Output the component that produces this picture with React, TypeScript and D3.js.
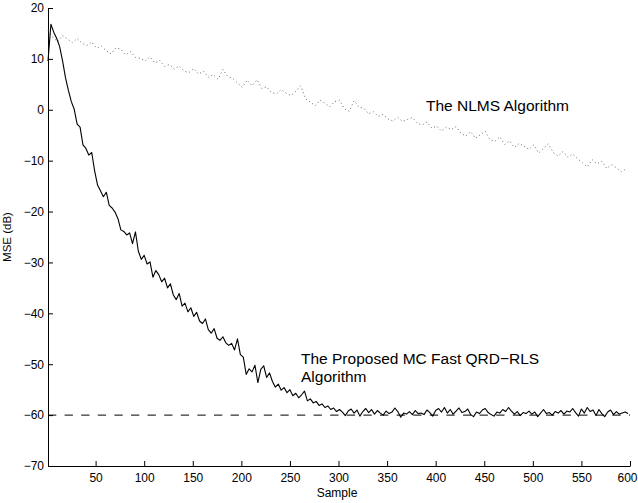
import React, { useEffect, useRef } from 'react'
import * as d3 from 'd3'

// MSE learning curves
const rlsStart = 1
const rlsStep = 3
const rlsMse = [
  9.6, 16.8, 15.2, 14.0, 12.4, 9.6, 6.3, 3.8, 1.6, 0.1,
  -2.8, -3.4, -6.9, -7.6, -8.9, -8.4, -12.0, -14.8, -15.9, -17.1,
  -16.2, -18.8, -19.3, -20.1, -21.4, -23.6, -23.9, -24.6, -24.2, -26.3,
  -24.0, -27.8, -29.4, -28.6, -30.3, -29.9, -32.9, -31.6, -32.4, -33.8,
  -33.1, -35.0, -34.2, -36.4, -37.3, -36.1, -38.6, -38.0, -39.7, -38.9,
  -40.6, -39.8, -41.5, -42.0, -41.1, -43.2, -43.9, -43.0, -44.9, -45.3,
  -44.6, -45.8, -46.3, -45.9, -47.2, -45.0, -48.1, -48.6, -52.0, -50.9,
  -51.5, -50.2, -53.6, -51.0, -50.3, -52.6, -51.7, -53.4, -54.5, -53.9,
  -55.1, -54.6, -55.6, -55.0, -56.2, -55.7, -56.6, -56.0, -55.3, -57.2,
  -56.8, -57.6, -57.3, -58.1, -57.8, -58.5, -58.2, -58.9, -58.6, -59.3,
  -58.9, -59.4, -60.1, -59.2, -58.8, -59.6, -59.0, -60.2, -59.3, -58.7,
  -59.5, -58.9, -59.8, -59.1, -59.6, -60.0, -59.2, -59.7, -59.4, -58.6,
  -59.3, -60.4, -59.6, -59.8, -59.3, -59.9, -59.1, -59.7, -59.6, -59.9,
  -59.0, -59.5, -60.2, -59.1, -58.7, -59.4, -58.5, -59.6, -58.9, -59.8,
  -59.2, -58.6, -59.5, -59.3, -58.8, -59.9, -60.3, -59.4, -59.7, -59.0,
  -58.7, -59.5, -59.9, -60.2, -59.4, -59.6, -58.9, -59.3, -58.5, -59.2,
  -59.8, -59.3, -60.1, -59.5, -59.7, -59.2, -59.8, -59.4, -60.3, -59.6,
  -58.9, -59.7, -59.5, -60.0, -59.3, -59.6, -59.1, -59.8, -59.2, -59.4,
  -58.7, -59.5, -60.2, -58.8, -59.6, -58.5, -59.3, -59.0, -60.1, -58.9,
  -59.7, -60.3, -59.4, -59.0, -59.9, -59.3, -59.8, -59.6, -59.4, -59.7,
]

const nlmsStart = 1
const nlmsStep = 5
const nlmsMse = [
  15.6, 14.2, 13.4, 14.6, 13.9, 13.2, 14.0, 13.1, 12.6, 13.3,
  12.1, 12.5, 11.6, 11.0, 12.2, 11.9, 10.8, 11.4, 10.3, 10.1,
  9.6, 10.4, 9.2, 9.7, 8.5, 8.9, 8.0, 8.6, 7.6, 7.3,
  8.1, 7.0, 7.6, 6.4, 6.9, 6.0, 7.9, 6.5, 6.2, 5.3,
  4.4, 5.8, 4.7, 5.9, 4.2, 4.5, 3.4, 3.1, 4.0, 3.3,
  2.8, 3.6, 4.7, 2.2, 1.5, 0.8, 1.9, 1.3, 0.6, 1.6,
  1.9, 0.2, -0.3, 1.8, 0.5, 0.3, -0.8, -0.4, -1.3, -0.9,
  -1.8, -2.2, -1.5, -2.3, -1.9, -1.5, -2.6, -3.0, -2.4, -3.6,
  -3.2, -4.2, -3.4, -3.9, -3.3, -4.6, -5.2, -4.3, -5.6, -4.9,
  -4.2, -5.9, -6.2, -5.3, -6.8, -6.1, -7.4, -6.6, -7.2, -7.8,
  -6.9, -8.5, -7.6, -6.7, -8.4, -9.1, -8.2, -9.3, -8.7, -9.6,
  -10.4, -11.2, -9.8, -10.6, -10.1, -11.5, -10.8, -11.4, -12.2, -11.6,
]

const floorLevel = -60
const xTicks = [50, 100, 150, 200, 250, 300, 350, 400, 450, 500, 550, 600]
const yTicks = [-70, -60, -50, -40, -30, -20, -10, 0, 10, 20]

const width = 638
const height = 503
const font = '"Liberation Sans", Arial, Helvetica, sans-serif'

function MseChart() {
  const ref = useRef<SVGSVGElement>(null)

  useEffect(() => {
    const svg = d3.select(ref.current)
    svg.selectAll('*').remove()

    const x = d3.scaleLinear().domain([1, 600]).range([48, 630])
    const y = d3.scaleLinear().domain([-70, 20]).range([466, 8])

    const rls = rlsMse.map((v, i) => [rlsStart + i * rlsStep, v] as [number, number])
    const nlms = nlmsMse.map((v, i) => [nlmsStart + i * nlmsStep, v] as [number, number])

    const line = d3.line<[number, number]>()
      .x(d => x(d[0]))
      .y(d => y(d[1]))

    const fmt = (d: d3.NumberValue) => String(d).replace('-', '\u2212')

    svg.append('g')
      .attr('transform', 'translate(0,466)')
      .call(d3.axisBottom(x).tickValues(xTicks).tickSizeInner(-5).tickSizeOuter(0).tickPadding(7).tickFormat(fmt))
      .call(g => g.selectAll('text').attr('font-size', 12).attr('font-family', font))
      // last label sits on the right edge, pull it in a little
      .call(g => g.selectAll<SVGTextElement, number>('text').filter(d => d === 600).attr('dx', -3))

    svg.append('g')
      .attr('transform', 'translate(48,0)')
      .call(d3.axisLeft(y).tickValues(yTicks).tickSizeInner(-5).tickSizeOuter(0).tickPadding(4).tickFormat(fmt))
      .call(g => g.selectAll('text').attr('font-size', 12).attr('font-family', font))

    // -60 dB reference
    svg.append('path')
      .datum([[1, floorLevel], [600, floorLevel]] as [number, number][])
      .attr('fill', 'none')
      .attr('stroke', '#000')
      .attr('stroke-width', 1)
      .attr('stroke-dasharray', '8.3 8.3')
      .attr('d', line)

    svg.append('path')
      .datum(nlms)
      .attr('fill', 'none')
      .attr('stroke', '#666')
      .attr('stroke-width', 1)
      .attr('stroke-dasharray', '1 2.8')
      .attr('d', line)

    svg.append('path')
      .datum(rls)
      .attr('fill', 'none')
      .attr('stroke', '#000')
      .attr('stroke-width', 1.1)
      .attr('stroke-linejoin', 'round')
      .attr('d', line)

    const notes = svg.append('g').attr('font-family', font).attr('font-size', 15.5).attr('fill', '#000')
    notes.append('text').attr('x', 426).attr('y', 111).text('The NLMS Algorithm')
    notes.append('text').attr('x', 301).attr('y', 363.5).text('The Proposed MC Fast QRD\u2212RLS')
    notes.append('text').attr('x', 301).attr('y', 381.5).text('Algorithm')

    svg.append('text')
      .attr('x', 337).attr('y', 497)
      .attr('text-anchor', 'middle')
      .attr('font-family', font).attr('font-size', 12)
      .text('Sample')

    svg.append('text')
      .attr('transform', 'translate(11,237) rotate(-90)')
      .attr('text-anchor', 'middle')
      .attr('font-family', font).attr('font-size', 11.5)
      .text('MSE (dB)')
  }, [])

  return <svg ref={ref} width={width} height={height} style={{ display: 'block', background: '#fff' }} />
}

export default function App() {
  return (
    <div style={{ position: 'fixed', left: 0, top: 0 }}>
      <MseChart />
    </div>
  )
}
